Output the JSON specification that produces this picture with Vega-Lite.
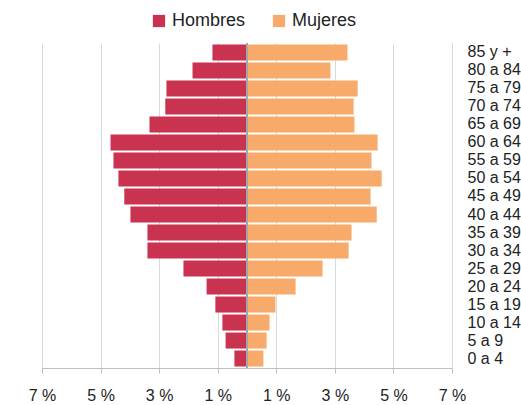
{
  "$schema": "https://vega.github.io/schema/vega-lite/v6.json",
  "autosize": "none",
  "width": 410,
  "height": 325,
  "padding": {"left": 42, "top": 43, "right": 69, "bottom": 37},
  "background": "white",
  "config": {
    "font": "Liberation Sans",
    "view": {"stroke": null}
  },
  "data": {
    "values": [
      {"edad": "85 y +", "sexo": "Hombres", "pct": -1.18},
      {"edad": "80 a 84", "sexo": "Hombres", "pct": -1.86},
      {"edad": "75 a 79", "sexo": "Hombres", "pct": -2.75},
      {"edad": "70 a 74", "sexo": "Hombres", "pct": -2.79},
      {"edad": "65 a 69", "sexo": "Hombres", "pct": -3.33},
      {"edad": "60 a 64", "sexo": "Hombres", "pct": -4.66},
      {"edad": "55 a 59", "sexo": "Hombres", "pct": -4.56},
      {"edad": "50 a 54", "sexo": "Hombres", "pct": -4.39},
      {"edad": "45 a 49", "sexo": "Hombres", "pct": -4.19},
      {"edad": "40 a 44", "sexo": "Hombres", "pct": -3.98},
      {"edad": "35 a 39", "sexo": "Hombres", "pct": -3.40},
      {"edad": "30 a 34", "sexo": "Hombres", "pct": -3.40},
      {"edad": "25 a 29", "sexo": "Hombres", "pct": -2.17},
      {"edad": "20 a 24", "sexo": "Hombres", "pct": -1.38},
      {"edad": "15 a 19", "sexo": "Hombres", "pct": -1.08},
      {"edad": "10 a 14", "sexo": "Hombres", "pct": -0.84},
      {"edad": "5 a 9", "sexo": "Hombres", "pct": -0.73},
      {"edad": "0 a 4", "sexo": "Hombres", "pct": -0.43},
      {"edad": "85 y +", "sexo": "Mujeres", "pct": 3.43},
      {"edad": "80 a 84", "sexo": "Mujeres", "pct": 2.85},
      {"edad": "75 a 79", "sexo": "Mujeres", "pct": 3.78},
      {"edad": "70 a 74", "sexo": "Mujeres", "pct": 3.64},
      {"edad": "65 a 69", "sexo": "Mujeres", "pct": 3.67},
      {"edad": "60 a 64", "sexo": "Mujeres", "pct": 4.46},
      {"edad": "55 a 59", "sexo": "Mujeres", "pct": 4.25},
      {"edad": "50 a 54", "sexo": "Mujeres", "pct": 4.60},
      {"edad": "45 a 49", "sexo": "Mujeres", "pct": 4.22},
      {"edad": "40 a 44", "sexo": "Mujeres", "pct": 4.43},
      {"edad": "35 a 39", "sexo": "Mujeres", "pct": 3.57},
      {"edad": "30 a 34", "sexo": "Mujeres", "pct": 3.47},
      {"edad": "25 a 29", "sexo": "Mujeres", "pct": 2.58},
      {"edad": "20 a 24", "sexo": "Mujeres", "pct": 1.66},
      {"edad": "15 a 19", "sexo": "Mujeres", "pct": 0.97},
      {"edad": "10 a 14", "sexo": "Mujeres", "pct": 0.77},
      {"edad": "5 a 9", "sexo": "Mujeres", "pct": 0.67},
      {"edad": "0 a 4", "sexo": "Mujeres", "pct": 0.56}
    ]
  },
  "layer": [
    {
      "mark": {"type": "bar"},
      "encoding": {
        "y": {
          "field": "edad",
          "type": "nominal",
          "sort": ["85 y +", "80 a 84", "75 a 79", "70 a 74", "65 a 69", "60 a 64", "55 a 59", "50 a 54", "45 a 49", "40 a 44", "35 a 39", "30 a 34", "25 a 29", "20 a 24", "15 a 19", "10 a 14", "5 a 9", "0 a 4"],
          "scale": {"paddingInner": 0.11, "paddingOuter": 0.08},
          "axis": {
            "orient": "right",
            "title": null,
            "ticks": false,
            "labelPadding": 15,
            "labelFontSize": 16,
            "labelColor": "#222222",
            "domainColor": "#d9d9d9",
            "labelAlign": "left"
          }
        },
        "x": {
          "field": "pct",
          "type": "quantitative",
          "stack": null,
          "scale": {"domain": [-7, 7], "nice": false},
          "axis": {
            "title": null,
            "values": [-7, -5, -3, -1, 1, 3, 5, 7],
            "labelExpr": "abs(datum.value) + ' %'",
            "labelFontSize": 16,
            "labelColor": "#222222",
            "labelPadding": 14,
            "tickSize": 5,
            "tickColor": "#bfbfbf",
            "domainColor": "#bfbfbf",
            "grid": true,
            "gridColor": "#d9d9d9",
            "labelFlush": false
          }
        },
        "color": {
          "field": "sexo",
          "type": "nominal",
          "scale": {"domain": ["Hombres", "Mujeres"], "range": ["#CA3350", "#F8AA6A"]},
          "legend": {
            "orient": "none",
            "direction": "horizontal",
            "legendX": 108,
            "legendY": -31,
            "title": null,
            "padding": 0,
            "symbolType": "square",
            "symbolSize": 150,
            "symbolStrokeWidth": 0,
            "symbolOpacity": 1,
            "labelFontSize": 18,
            "labelColor": "#222222",
            "labelOffset": 4,
            "columnPadding": 24
          }
        }
      }
    },
    {
      "mark": {"type": "rule", "color": "#a6a6a6", "strokeWidth": 1.5},
      "encoding": {"x": {"datum": 0}}
    }
  ]
}
